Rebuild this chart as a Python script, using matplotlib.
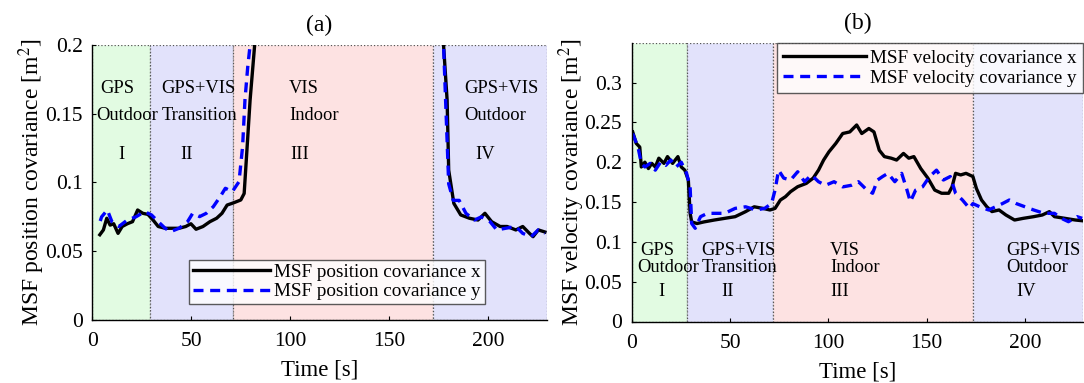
import matplotlib
matplotlib.use("Agg")
import matplotlib.pyplot as plt
import numpy as np

plt.rcParams['font.family'] = ['Liberation Serif', 'DejaVu Serif']
plt.rcParams['mathtext.fontset'] = 'stix'

# ---------------- data ----------------
# phase boundaries (s)
phase_edges_a = [0, 29.0, 71.2, 172.0, 229.5]
phase_edges_b = [0, 28.2, 71.9, 173.6, 229.5]
phase_colors = ['#e2fbe2', '#e2e2fb', '#fde2e2', '#e2e2fb']
phase_line1 = ['GPS', 'GPS+VIS', 'VIS', 'GPS+VIS']
phase_line2 = ['Outdoor', 'Transition', 'Indoor', 'Outdoor']
phase_roman = ['I', 'II', 'III', 'IV']

# (a) position covariance
t_pos_x = [3.8, 5.6, 7.3, 9.0, 10.8, 13.0, 15.1, 17.7, 20.3, 22.9, 25.5, 28.1, 30.7, 33.3,
           36.8, 40.3, 43.8, 47.2, 49.8, 52.4, 55.9, 59.4, 62.8, 65.5, 68.1, 71.5, 75.0,
           76.7, 78.1, 79.7, 82.0, 85.0, 100.0, 130.0, 160.0, 175.0, 177.4, 179.2, 180.0,
           182.6, 186.1, 190.5, 194.8, 198.3, 201.7, 206.0, 209.5, 213.9, 217.4, 220.8,
           222.6, 225.3, 228.6]
pos_x = [0.062, 0.0655, 0.074, 0.069, 0.070, 0.063, 0.068, 0.070, 0.0715, 0.080, 0.0776,
         0.0768, 0.0727, 0.068, 0.0667, 0.0667, 0.0667, 0.068, 0.070, 0.066, 0.068, 0.0715,
         0.074, 0.0776, 0.0836, 0.0853, 0.0873, 0.092, 0.1236, 0.16, 0.2, 0.27, 0.45, 0.55,
         0.5, 0.3, 0.2, 0.16, 0.109, 0.0848, 0.0764, 0.074, 0.0727, 0.0776, 0.0715, 0.068,
         0.068, 0.0655, 0.068, 0.063, 0.0606, 0.0655, 0.064]

t_pos_y = [4.0, 4.7, 7.6, 9.9, 13.4, 17.7, 22.0, 26.4, 29.9, 33.3, 36.8, 39.4, 43.8, 48.1,
           50.7, 54.2, 57.6, 61.1, 64.6, 67.2, 70.7, 74.1, 75.9, 77.1, 78.5, 79.7, 83.0,
           100.0, 130.0, 160.0, 175.0, 177.4, 180.0, 182.3, 185.3, 188.7, 193.0, 196.5,
           200.9, 204.3, 208.7, 213.9, 217.4, 221.7, 225.2, 228.6]
pos_y = [0.072, 0.075, 0.080, 0.0715, 0.068, 0.0727, 0.075, 0.0788, 0.0764, 0.0715, 0.0667,
         0.0642, 0.0667, 0.0715, 0.0776, 0.0752, 0.0776, 0.0824, 0.0897, 0.0958, 0.0933,
         0.1006, 0.126, 0.16, 0.184, 0.2, 0.26, 0.45, 0.55, 0.5, 0.3, 0.2, 0.099, 0.087,
         0.087, 0.0776, 0.0727, 0.075, 0.0715, 0.0655, 0.0667, 0.068, 0.063, 0.0606,
         0.0655, 0.063]

# (b) velocity covariance
t_vel_x = [0.5, 2.3, 4.1, 4.9, 6.7, 8.5, 10.2, 12.0, 13.8, 16.4, 18.2, 20.8, 23.5, 25.2,
           27.0, 28.8, 29.7, 30.5, 33.2, 36.7, 42.0, 47.3, 52.6, 57.9, 62.3, 66.7, 70.3,
           72.9, 75.6, 78.2, 80.8, 84.4, 88.8, 92.3, 95.0, 97.6, 100.3, 103.8, 107.3, 110.9,
           114.4, 117.0, 120.6, 123.2, 125.9, 128.5, 132.0, 134.7, 138.2, 140.9, 143.5,
           147.0, 150.6, 154.1, 157.6, 161.2, 162.9, 164.7, 167.3, 170.0, 173.5, 175.3,
           177.9, 180.6, 183.2, 186.8, 190.3, 194.7, 199.1, 204.4, 208.8, 212.4, 215.0,
           220.3, 225.6, 229.1]
vel_x = [0.238, 0.2236, 0.219, 0.194, 0.2, 0.192, 0.1985, 0.194, 0.205, 0.1985, 0.207,
         0.1985, 0.207, 0.194, 0.19, 0.1776, 0.136, 0.125, 0.123, 0.125, 0.1274, 0.1295,
         0.1316, 0.1379, 0.144, 0.142, 0.14, 0.142, 0.1525, 0.1567, 0.163, 0.1692, 0.1734,
         0.18, 0.19, 0.2027, 0.213, 0.2236, 0.236, 0.238, 0.2467, 0.236, 0.2423, 0.238,
         0.215, 0.207, 0.205, 0.2027, 0.211, 0.205, 0.207, 0.192, 0.18, 0.165, 0.161, 0.161,
         0.169, 0.186, 0.184, 0.186, 0.182, 0.167, 0.1525, 0.144, 0.138, 0.14, 0.1337,
         0.1274, 0.1295, 0.1316, 0.1337, 0.1379, 0.1316, 0.1295, 0.1274, 0.1265]

t_vel_y = [0.5, 3.2, 4.9, 6.7, 9.4, 12.0, 14.7, 17.3, 19.9, 22.6, 25.2, 27.9, 29.7, 30.5,
           32.3, 35.0, 38.5, 42.0, 47.3, 52.6, 57.9, 63.2, 67.6, 71.1, 72.9, 74.7, 77.3,
           80.8, 84.4, 87.9, 91.4, 95.0, 98.5, 102.9, 107.3, 111.7, 115.3, 118.8, 122.5,
           125.0, 127.6, 130.3, 133.8, 137.3, 140.0, 141.7, 144.4, 147.9, 151.5, 155.0,
           158.5, 162.0, 164.7, 168.2, 171.8, 173.5, 177.0, 181.5, 185.0, 188.5, 192.0,
           195.6, 200.0, 204.4, 209.7, 215.0, 218.5, 222.1, 226.5, 229.1]
vel_y = [0.236, 0.219, 0.1985, 0.194, 0.1985, 0.19, 0.2, 0.196, 0.2027, 0.194, 0.2, 0.186,
         0.169, 0.123, 0.117, 0.1316, 0.1358, 0.1358, 0.1358, 0.142, 0.144, 0.14, 0.142,
         0.148, 0.165, 0.19, 0.18, 0.1776, 0.188, 0.1755, 0.184, 0.1755, 0.171, 0.1755,
         0.169, 0.171, 0.1755, 0.167, 0.161, 0.1776, 0.182, 0.186, 0.1755, 0.186, 0.165,
         0.1504, 0.165, 0.169, 0.182, 0.19, 0.1776, 0.182, 0.161, 0.1525, 0.142, 0.148,
         0.144, 0.14, 0.144, 0.148, 0.1525, 0.148, 0.144, 0.14, 0.1358, 0.1358, 0.1295,
         0.1253, 0.1316, 0.1295]

yticks_a = [0, 0.05, 0.1, 0.15, 0.2]
yticks_b = [0, 0.05, 0.1, 0.15, 0.2, 0.25, 0.3]
xticks = [0, 50, 100, 150, 200]

# text anchor positions (x of first two lines, x of roman numeral) - layout
txt_a = dict(x1=[3.8, 34.7, 99.3, 188.0], x2=[2.1, 35.0, 99.3, 188.0],
             xr=[14.6, 47.7, 104.5, 198.3], y1=0.1685, y2=0.149, yr=0.12)
txt_b = dict(x1=[4.6, 35.5, 100.8, 190.3], x2=[2.8, 35.8, 100.8, 190.3],
             xr=[15.2, 48.7, 105.9, 200.4], y1=0.089, y2=0.068, yr=0.0374)

FS_TICK = 15.5
FS_LAB = 16.5
FS_TITLE = 17
FS_LEG = 13.8
FS_TXT = 13.3

fig = plt.figure(figsize=(10.84, 3.83), dpi=100)
ax_a = fig.add_axes([92.3 / 1084, 1 - 320 / 383, (546.7 - 92.3) / 1084, 275 / 383])
ax_b = fig.add_axes([631.7 / 1084, 1 - 321.5 / 383, (1083 - 631.7) / 1084, 278.8 / 383])


def setup(ax, edges, ymax, yticks, txt, title, ylabel, ylx, xly):
    for i in range(4):
        ax.axvspan(edges[i], edges[i + 1], facecolor=phase_colors[i],
                   edgecolor='#555555', linestyle=':', linewidth=0.9, zorder=0)
    for i in range(4):
        ax.text(txt['x1'][i], txt['y1'], phase_line1[i], fontsize=FS_TXT, ha='left', va='center')
        ax.text(txt['x2'][i], txt['y2'], phase_line2[i], fontsize=FS_TXT, ha='left', va='center')
        ax.text(txt['xr'][i], txt['yr'], phase_roman[i], fontsize=FS_TXT, ha='center', va='center')
    ax.set_xlim(0, 229.5)
    ax.set_ylim(0, ymax)
    ax.set_xticks(xticks)
    ax.set_xticklabels([str(v) for v in xticks])
    ax.set_yticks(yticks)
    ax.set_yticklabels(['%g' % v for v in yticks])
    ax.tick_params(direction='in', length=3, labelsize=FS_TICK, top=False, right=False)
    ax.tick_params(axis='x', pad=9)
    ax.tick_params(axis='y', pad=7)
    for s in ['top', 'right']:
        ax.spines[s].set_visible(False)
    for s in ['left', 'bottom']:
        ax.spines[s].set_linewidth(1.0)
        ax.spines[s].set_zorder(5)
    ax.set_xlabel('Time [s]', fontsize=FS_LAB, va='top')
    ax.xaxis.set_label_coords(0.5, xly)
    ax.set_ylabel(ylabel, fontsize=FS_LAB + 0.5)
    ax.yaxis.set_label_coords(ylx, 0.5)
    ax.set_title(title, fontsize=FS_TITLE, pad=10)


setup(ax_a, phase_edges_a, 0.2, yticks_a, txt_a, '(a)', 'MSF position covariance [m$^2$]', -0.100, -0.143)
setup(ax_b, phase_edges_b, 0.35, yticks_b, txt_b, '(b)', 'MSF velocity covariance [m$^2$]', -0.100, -0.142)

ax_a.plot(t_pos_x, pos_x, color='black', lw=2.4, label='MSF position covariance x', zorder=3)
ax_a.plot(t_pos_y, pos_y, color='blue', lw=2.4, ls=(0, (3, 2)), label='MSF position covariance y', zorder=4)
ax_b.plot(t_vel_x, vel_x, color='black', lw=2.4, label='MSF velocity covariance x', zorder=3)
ax_b.plot(t_vel_y, vel_y, color='blue', lw=2.4, ls=(0, (3, 2)), label='MSF velocity covariance y', zorder=4)

leg_a = ax_a.legend(loc='lower left', bbox_to_anchor=(0.2135, 0.058, 0.65, 0.18), mode='expand',
                    fontsize=FS_LEG, frameon=True, fancybox=False, edgecolor='#333333',
                    borderpad=0.2, handlelength=4.0, handletextpad=0.2, labelspacing=0.1,
                    borderaxespad=0)
leg_a.get_frame().set_linewidth(1.0)
leg_b = ax_b.legend(loc='upper right', bbox_to_anchor=(1.0, 1.0),
                    fontsize=FS_LEG, frameon=True, fancybox=False, edgecolor='#333333',
                    borderpad=0.35, handlelength=4.3, handletextpad=0.2, labelspacing=0.12,
                    borderaxespad=0)
leg_b.get_frame().set_linewidth(1.0)

fig.savefig('out.png', dpi=100)
